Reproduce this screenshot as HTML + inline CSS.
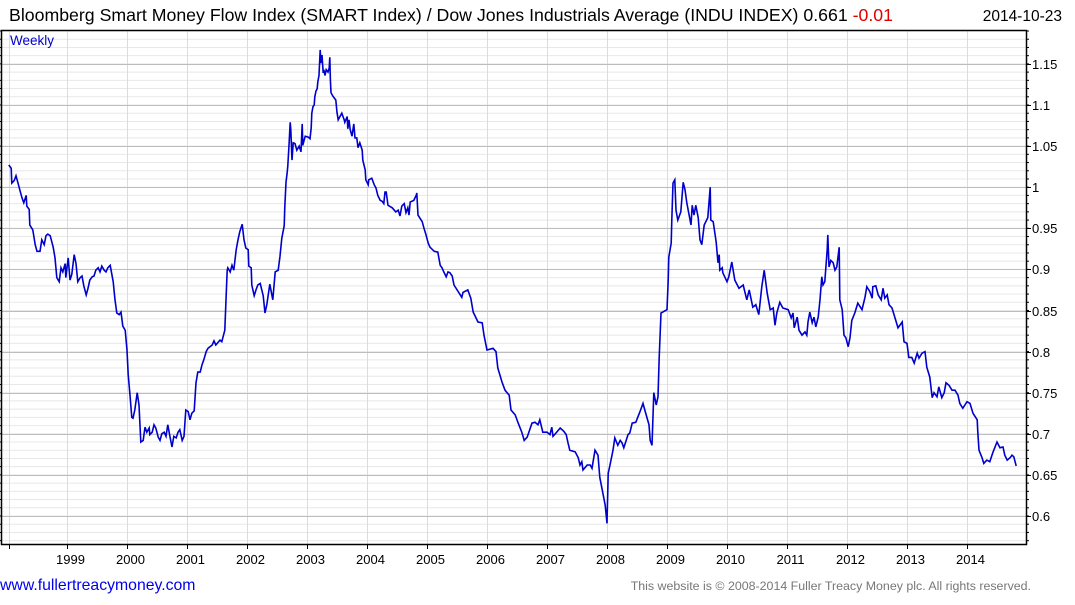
<!DOCTYPE html>
<html><head><meta charset="utf-8"><style>
body{margin:0;background:#fff;width:1075px;height:600px;overflow:hidden;font-family:"Liberation Sans",Arial,sans-serif}
svg text{font-family:"Liberation Sans",Arial,sans-serif}
</style></head><body>
<svg id="chart" width="1075" height="600" xmlns="http://www.w3.org/2000/svg">
<text x="9" y="21" font-size="17.6" fill="#000" textLength="884" lengthAdjust="spacingAndGlyphs">Bloomberg Smart Money Flow Index (SMART Index) / Dow Jones Industrials Average (INDU INDEX) 0.661 <tspan fill="#e00000">-0.01</tspan></text>
<text x="1062" y="21" font-size="15.5" text-anchor="end" fill="#000">2014-10-23</text>
<g id="grid"></g>
<g id="axes"></g>
<text x="10" y="45" font-size="13.5" fill="#0000cc">Weekly</text>
<text x="0" y="590" font-size="15.8" fill="#0000ee">www.fullertreacymoney.com</text>
<text x="1031" y="590" font-size="12.4" text-anchor="end" fill="#777">This website is © 2008-2014 Fuller Treacy Money plc. All rights reserved.</text>
</svg>
<script>
const dates=[1998.03,1998.07,1998.08,1998.12,1998.15,1998.18,1998.22,1998.25,1998.28,1998.32,1998.33,1998.37,1998.38,1998.43,1998.47,1998.50,1998.55,1998.58,1998.62,1998.65,1998.68,1998.72,1998.77,1998.80,1998.83,1998.87,1998.90,1998.93,1998.97,1998.98,1999.02,1999.05,1999.08,1999.12,1999.15,1999.18,1999.22,1999.25,1999.28,1999.32,1999.35,1999.38,1999.42,1999.45,1999.48,1999.52,1999.55,1999.58,1999.62,1999.65,1999.68,1999.72,1999.75,1999.77,1999.80,1999.83,1999.87,1999.90,1999.93,1999.97,2000.00,2000.02,2000.05,2000.08,2000.10,2000.13,2000.17,2000.20,2000.23,2000.27,2000.30,2000.33,2000.37,2000.38,2000.42,2000.45,2000.48,2000.52,2000.55,2000.58,2000.62,2000.65,2000.68,2000.72,2000.75,2000.78,2000.82,2000.85,2000.88,2000.92,2000.95,2000.98,2001.02,2001.05,2001.08,2001.12,2001.15,2001.18,2001.22,2001.25,2001.28,2001.32,2001.35,2001.42,2001.45,2001.48,2001.55,2001.58,2001.63,2001.65,2001.67,2001.68,2001.72,2001.75,2001.78,2001.82,2001.85,2001.88,2001.92,2001.95,2001.98,2002.02,2002.03,2002.07,2002.08,2002.12,2002.15,2002.18,2002.22,2002.27,2002.30,2002.33,2002.38,2002.43,2002.47,2002.52,2002.55,2002.58,2002.62,2002.63,2002.65,2002.67,2002.68,2002.70,2002.72,2002.73,2002.75,2002.77,2002.80,2002.83,2002.87,2002.90,2002.92,2002.93,2002.97,2003.02,2003.05,2003.07,2003.08,2003.10,2003.12,2003.13,2003.15,2003.17,2003.18,2003.20,2003.22,2003.23,2003.25,2003.27,2003.28,2003.30,2003.32,2003.35,2003.37,2003.38,2003.39,2003.40,2003.43,2003.48,2003.50,2003.52,2003.55,2003.58,2003.62,2003.63,2003.67,2003.68,2003.70,2003.72,2003.75,2003.78,2003.80,2003.83,2003.85,2003.88,2003.92,2003.93,2003.97,2003.98,2004.02,2004.03,2004.08,2004.12,2004.15,2004.18,2004.22,2004.25,2004.28,2004.30,2004.32,2004.35,2004.42,2004.48,2004.52,2004.55,2004.58,2004.62,2004.65,2004.68,2004.70,2004.72,2004.78,2004.82,2004.83,2004.85,2004.92,2004.95,2004.98,2005.02,2005.05,2005.12,2005.18,2005.22,2005.25,2005.28,2005.32,2005.35,2005.38,2005.42,2005.45,2005.58,2005.60,2005.68,2005.73,2005.77,2005.85,2005.92,2005.95,2006.00,2006.10,2006.15,2006.18,2006.25,2006.30,2006.37,2006.40,2006.47,2006.52,2006.58,2006.62,2006.67,2006.75,2006.80,2006.85,2006.88,2006.93,2007.00,2007.05,2007.08,2007.10,2007.15,2007.22,2007.28,2007.32,2007.35,2007.38,2007.47,2007.52,2007.55,2007.58,2007.60,2007.67,2007.72,2007.75,2007.80,2007.85,2007.88,2007.92,2007.97,2008.00,2008.02,2008.05,2008.10,2008.13,2008.18,2008.22,2008.25,2008.28,2008.32,2008.35,2008.38,2008.42,2008.48,2008.55,2008.60,2008.63,2008.70,2008.72,2008.75,2008.78,2008.82,2008.85,2008.87,2008.90,2008.93,2009.00,2009.02,2009.03,2009.07,2009.08,2009.10,2009.13,2009.15,2009.18,2009.23,2009.27,2009.30,2009.33,2009.40,2009.42,2009.45,2009.48,2009.52,2009.55,2009.58,2009.62,2009.68,2009.72,2009.73,2009.77,2009.82,2009.85,2009.87,2009.88,2009.92,2009.93,2010.00,2010.03,2010.08,2010.13,2010.20,2010.27,2010.33,2010.37,2010.43,2010.48,2010.53,2010.58,2010.62,2010.67,2010.72,2010.77,2010.80,2010.83,2010.88,2010.93,2011.02,2011.07,2011.10,2011.12,2011.17,2011.20,2011.25,2011.30,2011.33,2011.35,2011.38,2011.42,2011.45,2011.48,2011.52,2011.55,2011.58,2011.60,2011.63,2011.67,2011.68,2011.70,2011.73,2011.77,2011.80,2011.83,2011.87,2011.88,2011.92,2011.95,2011.98,2012.02,2012.05,2012.08,2012.13,2012.18,2012.25,2012.30,2012.33,2012.38,2012.42,2012.43,2012.48,2012.52,2012.57,2012.60,2012.63,2012.67,2012.70,2012.75,2012.80,2012.85,2012.92,2012.95,2013.00,2013.03,2013.08,2013.12,2013.17,2013.20,2013.25,2013.30,2013.33,2013.38,2013.42,2013.45,2013.50,2013.53,2013.58,2013.62,2013.65,2013.70,2013.75,2013.80,2013.85,2013.88,2013.93,2014.00,2014.05,2014.10,2014.17,2014.18,2014.20,2014.25,2014.28,2014.33,2014.38,2014.43,2014.50,2014.55,2014.60,2014.63,2014.67,2014.72,2014.75,2014.78,2014.82];
const values=[1.027,1.023,1.005,1.008,1.014,1.006,0.995,0.987,0.981,0.990,0.977,0.973,0.954,0.948,0.930,0.922,0.922,0.936,0.930,0.941,0.943,0.941,0.927,0.914,0.890,0.885,0.902,0.897,0.907,0.890,0.914,0.887,0.894,0.918,0.907,0.885,0.890,0.892,0.880,0.869,0.877,0.887,0.891,0.892,0.899,0.902,0.897,0.904,0.899,0.897,0.902,0.905,0.893,0.885,0.863,0.847,0.845,0.848,0.831,0.826,0.802,0.772,0.747,0.720,0.719,0.729,0.750,0.735,0.690,0.692,0.708,0.702,0.707,0.699,0.702,0.711,0.707,0.696,0.692,0.700,0.702,0.697,0.711,0.695,0.684,0.697,0.695,0.702,0.705,0.692,0.697,0.729,0.727,0.717,0.725,0.728,0.762,0.775,0.775,0.784,0.790,0.800,0.804,0.808,0.813,0.808,0.814,0.812,0.826,0.863,0.899,0.902,0.897,0.905,0.899,0.924,0.936,0.946,0.955,0.936,0.926,0.924,0.904,0.902,0.881,0.868,0.875,0.881,0.883,0.868,0.847,0.857,0.882,0.863,0.897,0.899,0.916,0.938,0.953,0.976,1.006,1.018,1.026,1.051,1.079,1.070,1.033,1.054,1.053,1.045,1.050,1.043,1.077,1.051,1.062,1.061,1.059,1.072,1.090,1.098,1.100,1.110,1.117,1.120,1.128,1.136,1.167,1.151,1.161,1.139,1.143,1.136,1.143,1.140,1.145,1.158,1.130,1.115,1.111,1.106,1.091,1.082,1.086,1.090,1.082,1.079,1.086,1.071,1.082,1.070,1.062,1.077,1.060,1.060,1.048,1.054,1.045,1.033,1.021,1.009,1.003,1.009,1.011,1.003,0.999,0.990,0.984,0.983,0.980,0.994,0.994,0.978,0.975,0.970,0.972,0.965,0.977,0.980,0.969,0.975,0.966,0.982,0.984,0.990,0.993,0.966,0.958,0.950,0.943,0.932,0.927,0.922,0.921,0.905,0.902,0.897,0.891,0.897,0.896,0.892,0.881,0.866,0.872,0.875,0.865,0.848,0.836,0.835,0.820,0.802,0.804,0.800,0.780,0.763,0.753,0.747,0.729,0.723,0.713,0.702,0.692,0.696,0.713,0.714,0.711,0.717,0.702,0.702,0.699,0.708,0.697,0.701,0.707,0.703,0.699,0.689,0.680,0.678,0.671,0.662,0.666,0.656,0.662,0.662,0.658,0.680,0.674,0.647,0.632,0.613,0.591,0.652,0.662,0.680,0.695,0.686,0.692,0.689,0.683,0.692,0.699,0.701,0.713,0.714,0.727,0.737,0.729,0.711,0.692,0.686,0.750,0.735,0.745,0.793,0.847,0.848,0.851,0.887,0.915,0.932,0.960,1.005,1.009,0.972,0.960,0.970,1.006,0.997,0.981,0.954,0.978,0.966,0.978,0.963,0.936,0.930,0.954,0.963,1.000,0.960,0.958,0.933,0.908,0.918,0.899,0.902,0.896,0.885,0.891,0.909,0.887,0.877,0.881,0.863,0.875,0.854,0.857,0.845,0.879,0.899,0.871,0.851,0.853,0.832,0.847,0.860,0.853,0.851,0.841,0.847,0.829,0.842,0.826,0.820,0.824,0.820,0.836,0.848,0.835,0.842,0.830,0.842,0.863,0.891,0.881,0.885,0.924,0.942,0.903,0.911,0.908,0.899,0.903,0.927,0.863,0.851,0.820,0.817,0.806,0.817,0.838,0.847,0.859,0.851,0.866,0.879,0.873,0.865,0.879,0.880,0.869,0.863,0.877,0.865,0.869,0.857,0.853,0.841,0.829,0.836,0.812,0.810,0.793,0.793,0.786,0.798,0.792,0.798,0.800,0.781,0.769,0.744,0.750,0.745,0.757,0.744,0.750,0.762,0.759,0.753,0.753,0.747,0.737,0.731,0.739,0.737,0.725,0.717,0.702,0.680,0.671,0.664,0.668,0.666,0.677,0.690,0.683,0.684,0.674,0.668,0.671,0.674,0.672,0.661];
const yTicks=[0.6,0.65,0.7,0.75,0.8,0.85,0.9,0.95,1.0,1.05,1.1,1.15];
const yTickLabels=["0.6","0.65","0.7","0.75","0.8","0.85","0.9","0.95","1","1.05","1.1","1.15"];
const xYears=[1999,2000,2001,2002,2003,2004,2005,2006,2007,2008,2009,2010,2011,2012,2013,2014];

const L=1,R=1026,T=30,B=544;
function xs(t){return 67+(t-1999)*60.0;}
function ys(v){return 516-(v-0.6)*822;}
const NS="http://www.w3.org/2000/svg";
const svg=document.getElementById('chart');
const grid=document.getElementById('grid');
const axes=document.getElementById('axes');
function mk(tag,attrs,parent){const e=document.createElementNS(NS,tag);for(const k in attrs)e.setAttribute(k,attrs[k]);parent.appendChild(e);return e;}

for(let i=0;;i++){const v=0.56+i*0.01;if(v>1.19)break;const y=ys(v);if(y<T||y>B)continue;
 const ln=mk('line',{x1:L,x2:R,y1:y,y2:y,stroke:'#e8e8e8','stroke-width':1},grid);
 
 
 const tk=mk('line',{x1:R,x2:R+3,y1:y,y2:y,stroke:'#000','stroke-width':1},axes);
 
 
 const tl=mk('line',{x1:L-3,x2:L,y1:y,y2:y,stroke:'#000','stroke-width':1},axes);
 
 
}
xYears.forEach(yr=>{const x=Math.round(xs(yr))+0.5;
 const ln=mk('line',{x1:x,x2:x,y1:T,y2:B,stroke:'#dcdcdc','stroke-width':1},grid);
 
 
 const tk=mk('line',{x1:x,x2:x,y1:B,y2:B+5,stroke:'#000','stroke-width':1},axes);
 
 
 const tx=mk('text',{x:x+3,y:564,'font-size':13,'text-anchor':'middle',fill:'#000'},axes);
 tx.textContent=yr;
 
 
});
{const x=Math.round(xs(dates[0]))+0.5;
 const ln=mk('line',{x1:x,x2:x,y1:T,y2:B,stroke:'#dcdcdc','stroke-width':1},grid);
 
 
 const tk=mk('line',{x1:x,x2:x,y1:B,y2:B+5,stroke:'#000','stroke-width':1},axes);
 
 }
yTicks.forEach((v,i)=>{const y=Math.round(ys(v))+0.5;
 const ln=mk('line',{x1:L,x2:R,y1:y,y2:y,stroke:'#bdbdbd','stroke-width':1},grid);
 
 
 const tk=mk('line',{x1:R,x2:R+5,y1:y,y2:y,stroke:'#000','stroke-width':1},axes);
 
 
 const tx=mk('text',{x:1032,y:y+4.5,'font-size':13,fill:'#000'},axes);
 tx.textContent=yTickLabels[i];
 
 
});
const fr=mk('rect',{x:L+0.5,y:T+0.5,width:R-L,height:B-T,fill:'none',stroke:'#000','stroke-width':1.5},axes);


let d='';
for(let i=0;i<dates.length;i++){d+=(i?'L':'M')+xs(dates[i]).toFixed(1)+','+ys(values[i]).toFixed(1);}
const p=mk('path',{d:d,fill:'none',stroke:'#0000cc','stroke-width':1.6,'stroke-linejoin':'miter'},svg);


</script>
</body></html>
